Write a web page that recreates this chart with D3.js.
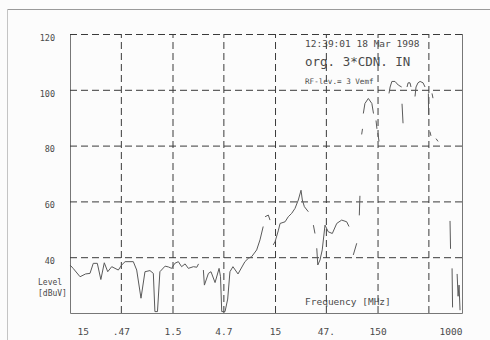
<!DOCTYPE html>
<html>
<head>
<meta charset="utf-8">
<script src="https://cdn.jsdelivr.net/npm/d3@7"></script>
<style>
  body { margin: 0; background: #fcfcfc; }
  svg { display: block; }
  .chart_text { font-family: "DejaVu Sans Mono", monospace; fill: #4a4a4a; }
  .grid line { stroke: #3a3a3a; stroke-dasharray: 7 4; stroke-width: 1; }
  .grid .domain { display: none; }
</style>
</head>
<body>
<div id="chart"></div>
<script>
// frequency in MHz, level in dBuV (null = pen lifted)
const freqMHz = [
  0.15, 0.161, 0.188, 0.213, 0.235, 0.253, 0.277, 0.30, 0.324, 0.35,
  0.383, 0.444, 0.479, 0.517, 0.622, 0.671, 0.739, 0.808, 0.904, 0.975,
  1.01, 1.07, 1.13, 1.27, 1.37, 1.47, 1.58, 1.71, 1.84, 1.99,
  2.14, 2.40, 2.59, 2.69, null, 3.0, 3.07, 3.36, 3.56, 3.90,
  4.27, 4.41, 4.53, 4.88, 5.18, 5.45, 5.83, 6.53, 7.63, 8.23,
  8.88, 9.93, 10.7, 11.5, null, 12.0, 12.9, 13.4, null, 14.4,
  15.0, 16.2, 16.8, 18.8, 20.2, 21.8, 23.5, 25.3, 26.9, 27.7,
  29.0, 31.7, null, 35.5, 36.8, null, 38.3, 39.2, 41.2, 43.3,
  46.1, 49.6, 54.3, 60.0, 67.0, 75.0, 79.0, null, 87, 94,
  null, 99.6, 101, null, 105, 107, null, 109, 113, 122,
  132, 137, null, 145, 148, null, 151, 155, null, 194,
  199, 207, 222, 239, 258, null, 260, 266, null, 291,
  298, 311, 318, null, 348, 356, 372, 390, 417, 436,
  null, 470, 472, null, 487, 498, null, 510, 521, null,
  558, 584, null, 764, 773, null, 800, 809, null, 896,
  916, 936, 957
];
const levelDbuV = [
  37.2, 36, 33, 34, 34.2, 37.8, 37.8, 32, 38, 34.8,
  36.6, 35.4, 37.2, 38.4, 38.4, 35.4, 25.3, 34.8, 35.2, 34.2,
  20.5, 20.5, 34.8, 36.8, 36.5, 36, 37.8, 38.4, 36.6, 37.6,
  36, 36.6, 36.4, 37.6, null, 35.4, 30, 34.2, 34.8, 30.9,
  36, 33, 20.5, 20.5, 25, 34.8, 36.6, 34, 38.4, 39.6,
  40.2, 42.6, 46.2, 51, null, 54.5, 55.1, 53.3, null, 44.4,
  45.5, 49.7, 52.1, 52.7, 54.5, 55.7, 57.5, 60.5, 64, 60.5,
  58.1, 56.3, null, 51.5, 48.5, null, 43.2, 37.2, 39, 42.6,
  51.5, 49.1, 48.5, 52.1, 53.3, 52.7, 51, null, 40.8, 45,
  null, 55, 62, null, 84, 86, null, 91.5, 95.1, 96.9,
  95.1, 91.5, null, 89, 86, null, 84.5, 81.5, null, 98.7,
  101, 103, 103, 101.7, 101, null, 95, 88, null, 101,
  102.5, 102.5, 101, null, 97.6, 101, 102.5, 103, 102.5, 101,
  null, 98.7, 91, null, 85, 83.5, null, 98.7, 97, null,
  82.5, 81.5, null, 53, 43, null, 36, 22, null, 34,
  26, 30, 21
];

const xTicks = [0.15, 0.47, 1.5, 4.7, 15, 47, 150, 1000];
const xTickLabels = ['15', '.47', '1.5', '4.7', '15', '47.', '150', '1000'];
const xGrid = [0.47, 1.5, 4.7, 15, 47, 150, 470];
const yTicks = [40, 60, 80, 100, 120];
const yGrid = [40, 60, 80, 100, 120];

const width = 490, height = 340;
const margin = [34, 27, 70, 28]; // top, bottom, left, right
const chartW = width - margin[2] - margin[3],
      chartH = height - margin[0] - margin[1];

const svg = d3.select('#chart').append('svg')
    .attr('width', width)
    .attr('height', height);

// scanned page edge
svg.append('line').attr('x1', 7).attr('y1', 9.5).attr('x2', 490).attr('y2', 9.5)
    .attr('stroke', '#9a9a9a');
svg.append('line').attr('x1', 7.5).attr('y1', 9).attr('x2', 7.5).attr('y2', 340)
    .attr('stroke', '#c4c4c4');

const scaleX = d3.scaleLog([0.15, 1000], [0, chartW]);
const scaleY = d3.scaleLinear([20, 120], [chartH, 0]);

const chart = svg.append('g')
    .attr('transform', `translate(${margin[2]},${margin[0]})`);

// frame: left, bottom, right solid
chart.append('path')
    .attr('d', `M0.5,0V${chartH + 0.5}H${chartW + 0.5}V0`)
    .attr('fill', 'none')
    .attr('stroke', '#777')
    .attr('stroke-width', 1);

// dashed grid
chart.append('g').classed('grid', true)
    .attr('transform', `translate(0,${chartH})`)
    .call(d3.axisBottom(scaleX).tickValues(xGrid).tickSize(-chartH).tickFormat(''));
chart.append('g').classed('grid', true)
    .call(d3.axisLeft(scaleY).tickValues(yGrid).tickSize(-chartW).tickFormat(''));

// measured trace
const pts = freqMHz.map((f, i) => ({f: f, v: levelDbuV[i]}));
const line = d3.line()
    .defined(d => d.f != null && d.v != null)
    .x(d => scaleX(d.f))
    .y(d => scaleY(d.v));
chart.append('path')
    .datum(pts)
    .attr('d', line)
    .attr('fill', 'none')
    .attr('stroke', '#5a5a5a')
    .attr('stroke-width', 1);

// axis labels
const axisX = chart.append('g')
    .attr('transform', `translate(0,${chartH})`)
    .call(d3.axisBottom(scaleX).tickValues(xTicks).tickSize(0).tickPadding(15)
        .tickFormat((d, i) => xTickLabels[i]));
axisX.select('.domain').remove();
axisX.selectAll('text')
    .attr('class', 'chart_text')
    .style('font-size', '9.5px')
    .attr('text-anchor', (d, i) => i === 0 ? 'start' : i === xTicks.length - 1 ? 'end' : 'middle')
    .attr('dx', (d, i) => i === 0 ? 7 : 0);

const axisY = chart.append('g')
    .call(d3.axisLeft(scaleY).tickValues(yTicks).tickSize(0).tickPadding(15));
axisY.select('.domain').remove();
axisY.selectAll('text')
    .attr('class', 'chart_text')
    .style('font-size', '8.5px')
    .attr('dy', '0.75em');

svg.append('text').classed('chart_text', true)
    .attr('x', 38).attr('y', 285).style('font-size', '8px').text('Level');
svg.append('text').classed('chart_text', true)
    .attr('x', 38).attr('y', 296).style('font-size', '8px').text('[dBuV]');
svg.append('text').classed('chart_text', true)
    .attr('x', 305).attr('y', 305).style('font-size', '9.5px').text('Frequency [MHz]');

// header block
svg.append('text').classed('chart_text', true)
    .attr('x', 305).attr('y', 47).style('font-size', '9.5px').text('12:39:01 18 Mar 1998');
svg.append('text').classed('chart_text', true)
    .attr('x', 305).attr('y', 66).style('font-size', '12.5px').text('org. 3*CDN. IN');
svg.append('text').classed('chart_text', true)
    .attr('x', 305).attr('y', 84).style('font-size', '7.6px').text('RF-lev.= 3 Vemf');
</script>
</body>
</html>
